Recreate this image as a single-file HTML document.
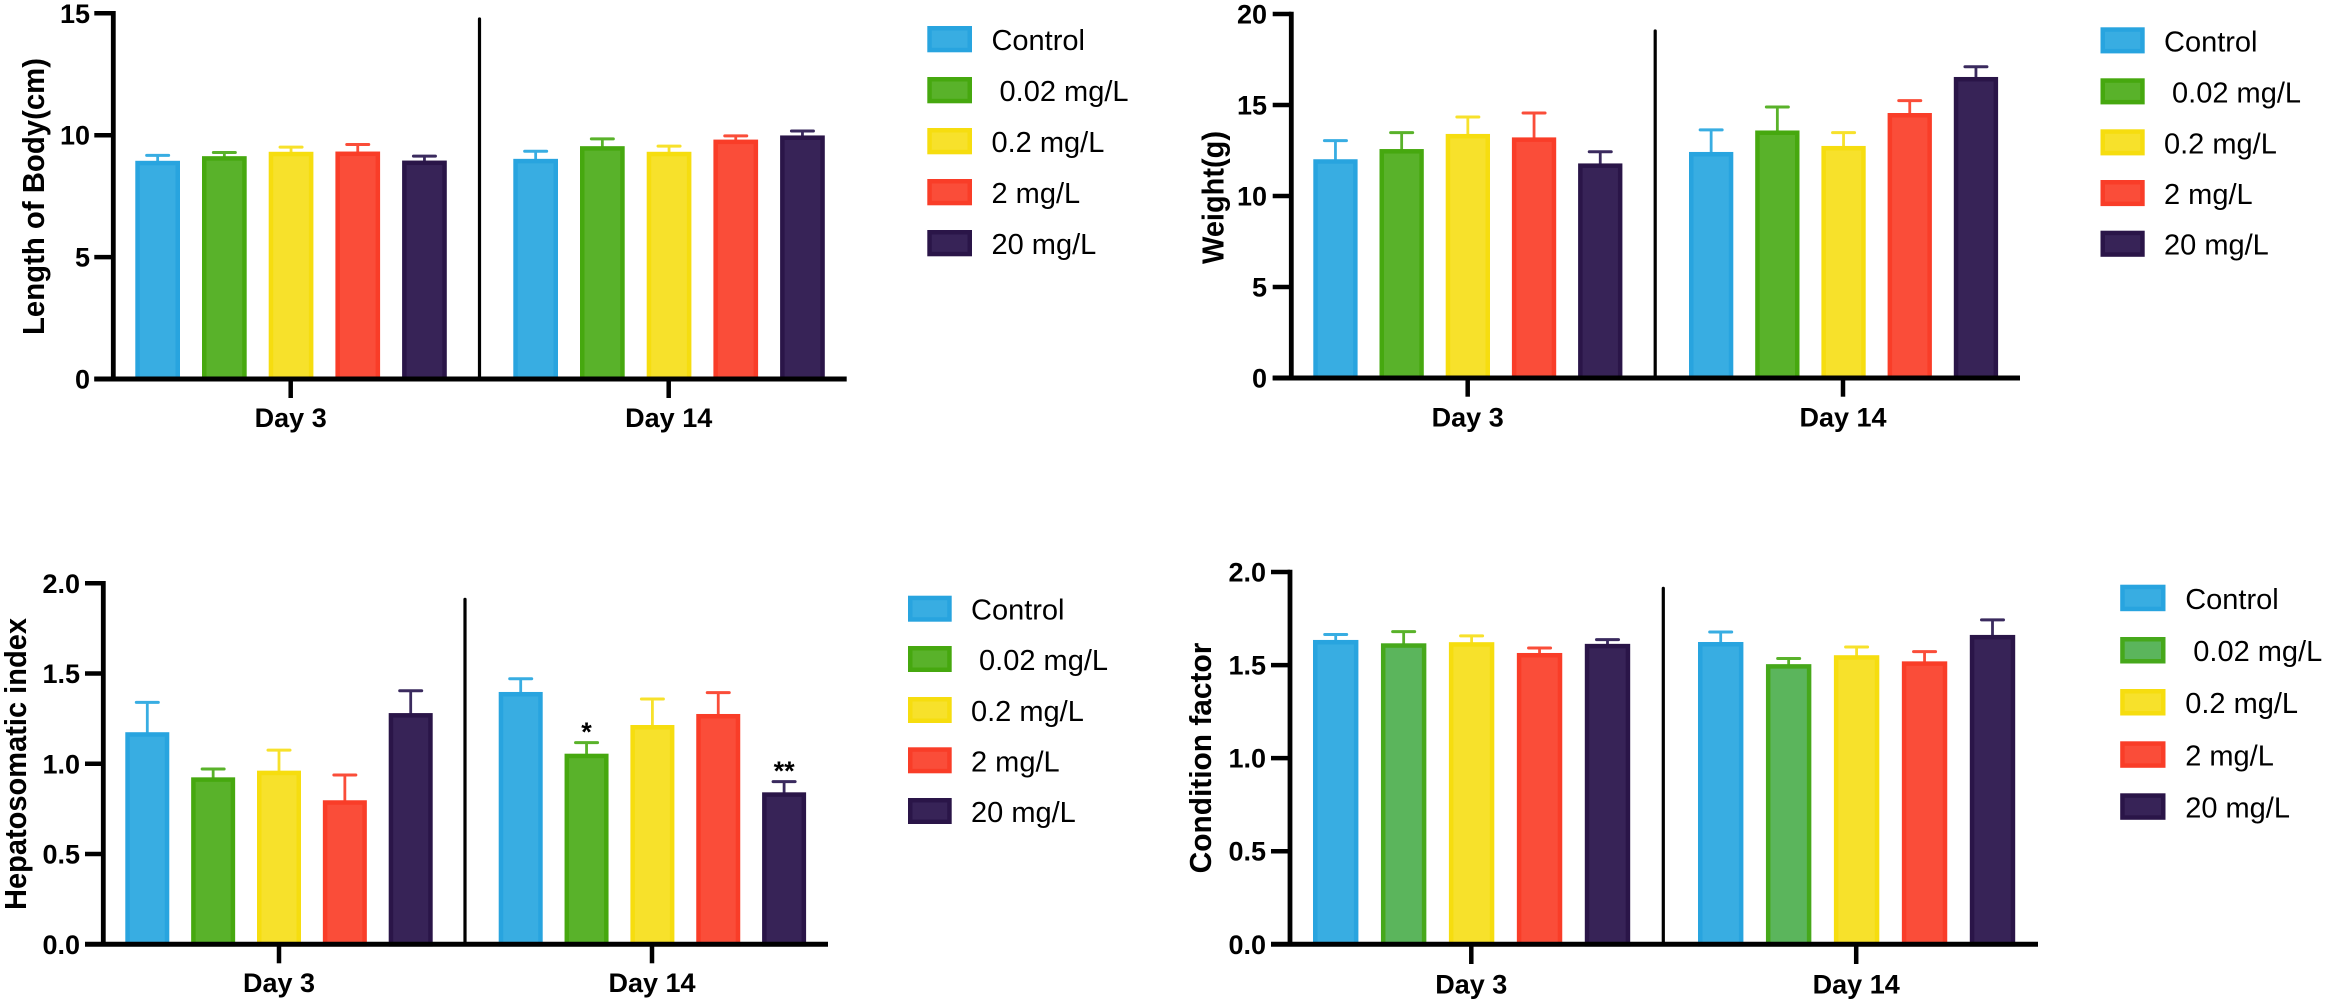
<!DOCTYPE html>
<html lang="en">
<head>
<meta charset="utf-8">
<title>Body measurements by concentration and day</title>
<style>
html,body{margin:0;padding:0;background:#fff;}
svg{display:block;}
text{font-family:"Liberation Sans",Arial,sans-serif;fill:#000;}
.tick-label,.day-label,.axis-title{font-weight:bold;font-size:27px;}
.axis-title{font-size:31px;}
.legend-label{font-size:29px;}
.sig{font-size:27px;font-weight:bold;}
.s0{fill:#38ADE2;stroke:#28A4DF;}
.s1{fill:#59B22A;stroke:#46A80F;}
.s1b{fill:#5BB55C;stroke:#46A81B;}
.s2{fill:#F7E12B;stroke:#F6DD0F;}
.s3{fill:#FA4D39;stroke:#F93D28;}
.s4{fill:#372357;stroke:#2A1548;}
.sw{stroke-width:4.5;}
</style>
</head>
<body>
<svg id="figure" xmlns="http://www.w3.org/2000/svg" width="2329" height="1004" viewBox="0 0 2329 1004">
  <rect x="0" y="0" width="2329" height="1004" fill="#fff"/>

  <g id="chart-length">
    <text class="axis-title" transform="translate(44,196.5) rotate(-90)" text-anchor="middle" textLength="277" lengthAdjust="spacingAndGlyphs">Length of Body(cm)</text>
  </g>
  <g id="legend-length">
    <g transform="translate(927.3,26)"><rect class="s0 sw" x="2.25" y="2.25" width="40.2" height="21.8"/><text class="legend-label" x="64.2" y="24">Control</text></g>
    <g transform="translate(927.3,77)"><rect class="s1 sw" x="2.25" y="2.25" width="40.2" height="21.8"/><text class="legend-label" x="64.2" y="24">&#160;0.02 mg/L</text></g>
    <g transform="translate(927.3,128)"><rect class="s2 sw" x="2.25" y="2.25" width="40.2" height="21.8"/><text class="legend-label" x="64.2" y="24">0.2 mg/L</text></g>
    <g transform="translate(927.3,179)"><rect class="s3 sw" x="2.25" y="2.25" width="40.2" height="21.8"/><text class="legend-label" x="64.2" y="24">2 mg/L</text></g>
    <g transform="translate(927.3,230)"><rect class="s4 sw" x="2.25" y="2.25" width="40.2" height="21.8"/><text class="legend-label" x="64.2" y="24">20 mg/L</text></g>
  </g>

  <g id="chart-weight">
    <text class="axis-title" transform="translate(1223.3,197.5) rotate(-90)" text-anchor="middle" textLength="133" lengthAdjust="spacingAndGlyphs">Weight(g)</text>
  </g>
  <g id="legend-weight">
    <g transform="translate(2100.5,27.3)"><rect class="s0 sw" x="2.25" y="2.25" width="39.7" height="21.6"/><text class="legend-label" x="63.5" y="24">Control</text></g>
    <g transform="translate(2100.5,78.3)"><rect class="s1 sw" x="2.25" y="2.25" width="39.7" height="21.6"/><text class="legend-label" x="63.5" y="24">&#160;0.02 mg/L</text></g>
    <g transform="translate(2100.5,129.3)"><rect class="s2 sw" x="2.25" y="2.25" width="39.7" height="21.6"/><text class="legend-label" x="63.5" y="24">0.2 mg/L</text></g>
    <g transform="translate(2100.5,180)"><rect class="s3 sw" x="2.25" y="2.25" width="39.7" height="21.6"/><text class="legend-label" x="63.5" y="24">2 mg/L</text></g>
    <g transform="translate(2100.5,230.7)"><rect class="s4 sw" x="2.25" y="2.25" width="39.7" height="21.6"/><text class="legend-label" x="63.5" y="24">20 mg/L</text></g>
  </g>

  <g id="chart-hepato">
    <text class="axis-title" transform="translate(26,764) rotate(-90)" text-anchor="middle" textLength="292" lengthAdjust="spacingAndGlyphs">Hepatosomatic index</text>
  </g>
  <g id="legend-hepato">
    <g transform="translate(908,595.7)"><rect class="s0 sw" x="2.25" y="2.25" width="39.2" height="21.5"/><text class="legend-label" x="63" y="24">Control</text></g>
    <g transform="translate(908,646)"><rect class="s1 sw" x="2.25" y="2.25" width="39.2" height="21.5"/><text class="legend-label" x="63" y="24">&#160;0.02 mg/L</text></g>
    <g transform="translate(908,697)"><rect class="s2 sw" x="2.25" y="2.25" width="39.2" height="21.5"/><text class="legend-label" x="63" y="24">0.2 mg/L</text></g>
    <g transform="translate(908,747.3)"><rect class="s3 sw" x="2.25" y="2.25" width="39.2" height="21.5"/><text class="legend-label" x="63" y="24">2 mg/L</text></g>
    <g transform="translate(908,798)"><rect class="s4 sw" x="2.25" y="2.25" width="39.2" height="21.5"/><text class="legend-label" x="63" y="24">20 mg/L</text></g>
  </g>

  <g id="chart-condition">
    <text class="axis-title" transform="translate(1211,758) rotate(-90)" text-anchor="middle" textLength="230.7" lengthAdjust="spacingAndGlyphs">Condition factor</text>
  </g>
  <g id="legend-condition">
    <g transform="translate(2120.2,584.7)"><rect class="s0 sw" x="2.25" y="2.25" width="40.8" height="22"/><text class="legend-label" x="65" y="24.3">Control</text></g>
    <g transform="translate(2120.2,637)"><rect class="s1b sw" x="2.25" y="2.25" width="40.8" height="22"/><text class="legend-label" x="65" y="24">&#160;0.02 mg/L</text></g>
    <g transform="translate(2120.2,689)"><rect class="s2 sw" x="2.25" y="2.25" width="40.8" height="22"/><text class="legend-label" x="65" y="24">0.2 mg/L</text></g>
    <g transform="translate(2120.2,741.3)"><rect class="s3 sw" x="2.25" y="2.25" width="40.8" height="22"/><text class="legend-label" x="65" y="24">2 mg/L</text></g>
    <g transform="translate(2120.2,793.3)"><rect class="s4 sw" x="2.25" y="2.25" width="40.8" height="22"/><text class="legend-label" x="65" y="24">20 mg/L</text></g>
  </g>
</svg>

<script>
const dayLabels = ['Day 3', 'Day 14'];
const seriesNames = ['control', '0-02-mg-l', '0-2-mg-l', '2-mg-l', '20-mg-l'];

const lengthDay3 = [8.95, 9.14, 9.32, 9.33, 8.96];
const lengthDay14 = [9.03, 9.55, 9.32, 9.82, 9.99];
const lengthDay3Err = [0.22, 0.15, 0.19, 0.29, 0.18];
const lengthDay14Err = [0.31, 0.30, 0.23, 0.15, 0.18];
const lengthTicks = [0, 5, 10, 15];
const lengthTickLabels = ['0', '5', '10', '15'];

const weightDay3 = [12.02, 12.58, 13.41, 13.22, 11.79];
const weightDay14 = [12.42, 13.6, 12.75, 14.56, 16.54];
const weightDay3Err = [1.02, 0.90, 0.93, 1.34, 0.64];
const weightDay14Err = [1.21, 1.29, 0.73, 0.68, 0.56];
const weightTicks = [0, 5, 10, 15, 20];
const weightTickLabels = ['0', '5', '10', '15', '20'];

const hepatoDay3 = [1.175, 0.925, 0.962, 0.798, 1.281];
const hepatoDay14 = [1.398, 1.056, 1.215, 1.276, 0.842];
const hepatoDay3Err = [0.165, 0.046, 0.114, 0.14, 0.124];
const hepatoDay14Err = [0.073, 0.061, 0.144, 0.118, 0.059];
const hepatoDay14Sig = ['', '*', '', '', '**'];
const hepatoTicks = [0, 0.5, 1, 1.5, 2];
const hepatoTickLabels = ['0.0', '0.5', '1.0', '1.5', '2.0'];

const conditionDay3 = [1.635, 1.617, 1.623, 1.565, 1.614];
const conditionDay14 = [1.624, 1.505, 1.553, 1.52, 1.662];
const conditionDay3Err = [0.029, 0.063, 0.034, 0.027, 0.023];
const conditionDay14Err = [0.054, 0.03, 0.044, 0.052, 0.081];
const conditionTicks = [0, 0.5, 1, 1.5, 2];
const conditionTickLabels = ['0.0', '0.5', '1.0', '1.5', '2.0'];

const SVG_NS = 'http://www.w3.org/2000/svg';
const capColors = ['#38ADE2', '#59B22A', '#F7E12B', '#FA4D39', '#3A2A5E'];

function make(parent, tag, attrs) {
  const el = document.createElementNS(SVG_NS, tag);
  for (const k in attrs) el.setAttribute(k, attrs[k]);
  parent.appendChild(el);
  return el;
}

function drawChart(c) {
  const root = document.getElementById(c.id);
  const yScale = v => c.y0 - (v / c.yMax) * (c.y0 - c.yTop);
  const xScale = (group, i) => c.barStart[group] + i * c.step;

  c.days.forEach((values, group) => {
    values.forEach((v, i) => {
      const left = xScale(group, i);
      const mid = left + c.barW / 2;
      const top = yScale(v);
      const capY = yScale(v + c.errs[group][i]);

      const stem = make(root, 'line', {x1: mid, x2: mid, y1: top + 2, y2: capY, stroke: capColors[i], 'stroke-width': 2.8});
      
      

      const cap = make(root, 'line', {x1: mid - 11, x2: mid + 11, y1: capY, y2: capY, stroke: capColors[i], 'stroke-width': 3, 'stroke-linecap': 'round'});
      
      

      const cls = (i === 1 && c.altGreen) ? 's1b' : 's' + i;
      const bar = make(root, 'rect', {x: left + 2.25, y: top + 2.25, width: c.barW - 4.5, height: Math.max(0, c.y0 - top - 2.25), class: cls + ' sw'});
      
      

      if (c.sig && c.sig[group] && c.sig[group][i]) {
        const star = make(root, 'text', {x: mid, y: capY - 1.5, 'text-anchor': 'middle', class: 'sig'});
        star.textContent = c.sig[group][i];
        
        
      }
    });
  });

  const divider = make(root, 'line', {x1: c.divX, x2: c.divX, y1: c.divTop, y2: c.y0, stroke: '#000', 'stroke-width': 3.2, 'stroke-linecap': 'round'});
  
  

  const yAxis = make(root, 'line', {x1: c.axisX, x2: c.axisX, y1: c.yTop - 2.25, y2: c.y0, stroke: '#000', 'stroke-width': 4.8});
  
  

  const xAxis = make(root, 'line', {x1: c.tickLeft, x2: c.xEnd, y1: c.y0, y2: c.y0, stroke: '#000', 'stroke-width': 5});
  
  

  c.ticks.forEach((t, i) => {
    const y = yScale(t);
    const tick = make(root, 'line', {x1: c.tickLeft, x2: c.axisX, y1: y, y2: y, stroke: '#000', 'stroke-width': 4.5});
    
    

    const label = make(root, 'text', {x: c.labelRight, y: y + 9.5, 'text-anchor': 'end', class: 'tick-label'});
    label.textContent = c.tickLabels[i];
    
    
  });

  dayLabels.forEach((d, i) => {
    const tick = make(root, 'line', {x1: c.dayX[i], x2: c.dayX[i], y1: c.y0, y2: c.tickBottom, stroke: '#000', 'stroke-width': 4.5});
    
    

    const label = make(root, 'text', {x: c.dayX[i], y: c.labelBase, 'text-anchor': 'middle', class: 'day-label'});
    label.textContent = d;
    
    
  });
}

drawChart({
  id: 'chart-length', days: [lengthDay3, lengthDay14], errs: [lengthDay3Err, lengthDay14Err],
  ticks: lengthTicks, tickLabels: lengthTickLabels, yMax: 15,
  y0: 379, yTop: 13.3, axisX: 113.3, tickLeft: 94.3, xEnd: 846.7, labelRight: 90,
  barStart: [135.3, 513.3], step: 66.7, barW: 44.7,
  divX: 479.5, divTop: 19, dayX: [290.7, 668.7], tickBottom: 398, labelBase: 427
});

drawChart({
  id: 'chart-weight', days: [weightDay3, weightDay14], errs: [weightDay3Err, weightDay14Err],
  ticks: weightTicks, tickLabels: weightTickLabels, yMax: 20,
  y0: 378, yTop: 14, axisX: 1291.3, tickLeft: 1272.7, xEnd: 2020, labelRight: 1267,
  barStart: [1313.3, 1689], step: 66.2, barW: 44.3,
  divX: 1655.2, divTop: 31, dayX: [1467.7, 1843], tickBottom: 396.7, labelBase: 426.7
});

drawChart({
  id: 'chart-hepato', days: [hepatoDay3, hepatoDay14], errs: [hepatoDay3Err, hepatoDay14Err],
  sig: [null, hepatoDay14Sig],
  ticks: hepatoTicks, tickLabels: hepatoTickLabels, yMax: 2,
  y0: 944.3, yTop: 583.3, axisX: 103.3, tickLeft: 85, xEnd: 828, labelRight: 80,
  barStart: [125.3, 498.7], step: 65.85, barW: 44,
  divX: 465, divTop: 599.3, dayX: [279, 652], tickBottom: 963.3, labelBase: 992
});

drawChart({
  id: 'chart-condition', days: [conditionDay3, conditionDay14], errs: [conditionDay3Err, conditionDay14Err],
  altGreen: true,
  ticks: conditionTicks, tickLabels: conditionTickLabels, yMax: 2,
  y0: 944.3, yTop: 572, axisX: 1290, tickLeft: 1271, xEnd: 2038, labelRight: 1266,
  barStart: [1313, 1698], step: 67.95, barW: 45.4,
  divX: 1663.3, divTop: 588.3, dayX: [1471.3, 1856.2], tickBottom: 964, labelBase: 993.3
});
</script>
</body>
</html>
